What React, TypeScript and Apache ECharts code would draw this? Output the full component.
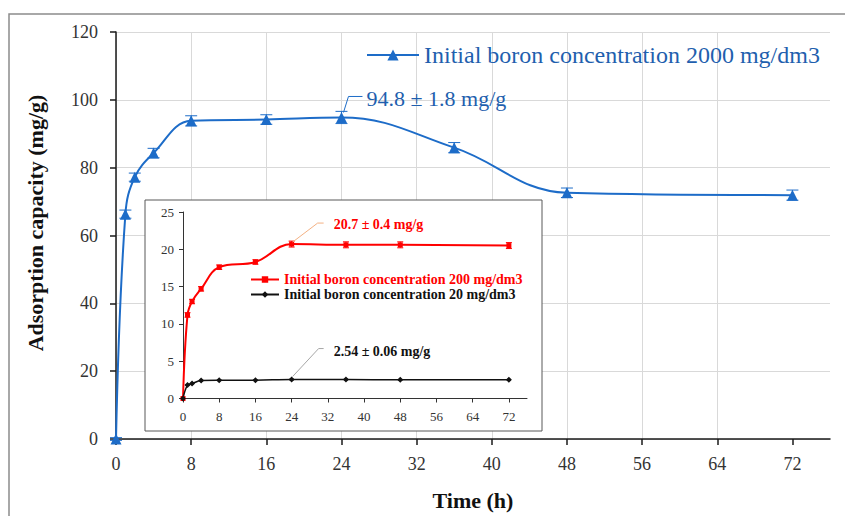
import React, { useEffect, useRef } from "react";
import * as echarts from "echarts";

// Contact time (h)
const hours = [0, 1, 2, 4, 8, 16, 24, 36, 48, 72];

// Initial boron concentration 2000 mg/dm3 (main plot)
const capacity2000 = [0, 66.3, 77.2, 84.3, 93.8, 94.2, 94.8, 85.9, 72.6, 71.9];
const error2000 = [0.4, 1.2, 1.2, 1.4, 1.5, 1.4, 1.8, 1.5, 1.4, 1.5];

// Initial boron concentration 200 mg/dm3 (inset)
const capacity200 = [0, 11.2, 13.0, 14.7, 17.6, 18.3, 20.7, 20.6, 20.6, 20.5];
const error200 = [0, 0.3, 0.3, 0.3, 0.3, 0.3, 0.4, 0.4, 0.4, 0.4];

// Initial boron concentration 20 mg/dm3 (inset)
const capacity20 = [0, 1.8, 2.0, 2.4, 2.45, 2.46, 2.54, 2.54, 2.5, 2.5];
const error20 = [0, 0.05, 0.05, 0.05, 0.06, 0.06, 0.06, 0.06, 0.06, 0.06];

const timeTicks = [0, 8, 16, 24, 32, 40, 48, 56, 64, 72];

const NAME_2000 = "Initial boron concentration 2000 mg/dm3";
const NAME_200 = "Initial boron concentration 200 mg/dm3";
const NAME_20 = "Initial boron concentration 20 mg/dm3";

const SERIF = "Liberation Serif";
const BLUE = "#1d6cc8";
const BLUE_TEXT = "#1f5fae";
const RED = "#ff0000";
const BLACK = "#111111";

const pairs = (ys: number[]) => hours.map((t, i) => [t, ys[i]]);
const ranges = (ys: number[], es: number[]) =>
  hours.map((t, i) => [t, ys[i] - es[i], ys[i] + es[i]]);

function errorBarSeries(
  data: number[][],
  color: string,
  axisIndex: number,
  cap: number,
  z: number
) {
  return {
    type: "custom",
    xAxisIndex: axisIndex,
    yAxisIndex: axisIndex,
    z,
    silent: true,
    data,
    encode: { x: 0, y: [1, 2] },
    renderItem: (_params: any, api: any) => {
      const x = api.value(0);
      const lo = api.coord([x, api.value(1)]);
      const hi = api.coord([x, api.value(2)]);
      const style = { stroke: color, lineWidth: 1 };
      return {
        type: "group",
        children: [
          { type: "line", shape: { x1: lo[0], y1: lo[1], x2: hi[0], y2: hi[1] }, style },
          { type: "line", shape: { x1: lo[0] - cap, y1: lo[1], x2: lo[0] + cap, y2: lo[1] }, style },
          { type: "line", shape: { x1: hi[0] - cap, y1: hi[1], x2: hi[0] + cap, y2: hi[1] }, style },
        ],
      };
    },
  };
}

export default function App() {
  const ref = useRef<HTMLDivElement>(null);

  useEffect(() => {
    if (!ref.current) return;
    const chart = echarts.init(ref.current, undefined, { renderer: "svg" });

    const axisText = { fontFamily: SERIF, color: "#333333" };

    chart.setOption({
      animation: false,
      backgroundColor: "#ffffff",
      textStyle: { fontFamily: SERIF },
      grid: [
        { left: 116, top: 32, right: 15, bottom: 77, outerBoundsMode: "none" },
        { left: 183, top: 212, width: 344, height: 186.5, outerBoundsMode: "none" },
      ],
      legend: [
        {
          data: [NAME_2000],
          left: 366,
          top: 42,
          padding: 0,
          itemWidth: 52,
          itemHeight: 14,
          itemGap: 0,
          itemTextGap: 5,
          textStyle: { fontFamily: SERIF, fontSize: 24, color: BLUE_TEXT, lineHeight: 26 },
        },
        {
          data: [
            { name: NAME_200, textStyle: { color: RED, fontFamily: SERIF } },
            { name: NAME_20, textStyle: { color: BLACK, fontFamily: SERIF } },
          ],
          orient: "vertical",
          left: 250,
          top: 272,
          padding: 0,
          itemWidth: 28,
          itemHeight: 8,
          itemGap: 0,
          itemTextGap: 3,
          textStyle: { fontFamily: SERIF, fontSize: 14, fontWeight: "bold", lineHeight: 15 },
        },
      ],
      xAxis: [
        {
          type: "value",
          gridIndex: 0,
          min: 0,
          max: 76,
          interval: 8,
          z: 0,
          name: "Time (h)",
          nameLocation: "middle",
          nameGap: 50,
          nameTextStyle: { fontFamily: SERIF, fontSize: 22, fontWeight: "bold", color: "#111111" },
          axisLine: { onZero: false, lineStyle: { color: "#1a1a1a", width: 1.5 } },
          axisTick: { show: true, length: 6, customValues: timeTicks, lineStyle: { color: "#1a1a1a", width: 1.5 } },
          axisLabel: { ...axisText, fontSize: 18, margin: 16, customValues: timeTicks },
          splitLine: { show: true, showMaxLine: false, lineStyle: { color: "#d9d9d9", width: 1 } },
        },
        {
          type: "value",
          gridIndex: 1,
          min: 0,
          max: 76,
          interval: 8,
          z: 3,
          axisLine: { onZero: false, lineStyle: { color: "#333333", width: 1 } },
          axisTick: { show: true, length: 4, customValues: timeTicks, lineStyle: { color: "#333333" } },
          axisLabel: { ...axisText, fontSize: 13, margin: 11, customValues: timeTicks },
          splitLine: { show: false },
        },
      ],
      yAxis: [
        {
          type: "value",
          gridIndex: 0,
          min: 0,
          max: 120,
          interval: 20,
          z: 0,
          axisLine: { show: true, onZero: false, lineStyle: { color: "#1a1a1a", width: 1.5 } },
          axisTick: { show: true, length: 6, lineStyle: { color: "#1a1a1a", width: 1.5 } },
          axisLabel: { ...axisText, fontSize: 18, margin: 18 },
          splitLine: { show: true, lineStyle: { color: "#d9d9d9", width: 1 } },
        },
        {
          type: "value",
          gridIndex: 1,
          min: 0,
          max: 25,
          interval: 5,
          z: 3,
          axisLine: { show: true, onZero: false, lineStyle: { color: "#333333", width: 1 } },
          axisTick: { show: true, length: 4, lineStyle: { color: "#333333" } },
          axisLabel: { ...axisText, fontSize: 13, margin: 9 },
          splitLine: { show: false },
        },
      ],
      series: [
        {
          name: NAME_2000,
          type: "line",
          xAxisIndex: 0,
          yAxisIndex: 0,
          data: pairs(capacity2000),
          smooth: 0.4,
          symbol: "triangle",
          symbolSize: 11,
          z: 2,
          itemStyle: { color: BLUE },
          lineStyle: { color: BLUE, width: 2 },
        },
        errorBarSeries(ranges(capacity2000, error2000), BLUE, 0, 6, 2),
        {
          name: NAME_200,
          type: "line",
          xAxisIndex: 1,
          yAxisIndex: 1,
          data: pairs(capacity200),
          smooth: 0.4,
          symbol: "rect",
          symbolSize: 5,
          z: 5,
          itemStyle: { color: RED },
          lineStyle: { color: RED, width: 2 },
        },
        errorBarSeries(ranges(capacity200, error200), RED, 1, 3, 5),
        {
          name: NAME_20,
          type: "line",
          xAxisIndex: 1,
          yAxisIndex: 1,
          data: pairs(capacity20),
          smooth: 0.4,
          symbol: "diamond",
          symbolSize: 6,
          z: 5,
          itemStyle: { color: BLACK },
          lineStyle: { color: BLACK, width: 1.5 },
        },
        errorBarSeries(ranges(capacity20, error20), BLACK, 1, 2, 5),
      ],
    });

    // Leader lines and value labels anchored on the 24 h points
    const iPeak = hours.indexOf(24);
    const pBlue = chart.convertToPixel({ gridIndex: 0 }, [24, capacity2000[iPeak]]) as number[];
    const pRed = chart.convertToPixel({ gridIndex: 1 }, [24, capacity200[iPeak]]) as number[];
    const pBlack = chart.convertToPixel({ gridIndex: 1 }, [24, capacity20[iPeak]]) as number[];

    const leader = (p: number[], pts: number[][], color: string) => ({
      type: "polyline",
      z: 6,
      silent: true,
      shape: { points: pts.map(([dx, dy]) => [p[0] + dx, p[1] + dy]) },
      style: { stroke: color, lineWidth: 1, fill: "none" },
    });
    const note = (p: number[], dx: number, dy: number, text: string, color: string, size: number, bold: boolean) => ({
      type: "text",
      z: 6,
      silent: true,
      x: p[0] + dx,
      y: p[1] + dy,
      style: {
        text,
        fill: color,
        font: `${bold ? "bold " : ""}${size}px ${SERIF}`,
        textAlign: "left",
        textVerticalAlign: "middle",
      },
    });

    chart.setOption({
      graphic: {
        elements: [
          {
            type: "rect",
            z: -1,
            silent: true,
            shape: { x: 9, y: 14, width: 900, height: 600 },
            style: { fill: "none", stroke: "#8c8c8c", lineWidth: 1.5 },
          },
          {
            type: "rect",
            z: 1,
            silent: true,
            shape: { x: 145, y: 200, width: 397, height: 231 },
            style: { fill: "#ffffff", stroke: "#595959", lineWidth: 1 },
          },
          {
            type: "text",
            z: 6,
            silent: true,
            x: 35,
            y: 223,
            rotation: Math.PI / 2,
            style: {
              text: "Adsorption capacity (mg/g)",
              fill: "#111111",
              font: `bold 22px ${SERIF}`,
              textAlign: "center",
              textVerticalAlign: "middle",
            },
          },
          leader(pBlue, [[2, -5], [7, -21], [21, -21]], BLUE),
          note(pBlue, 25, -19, `${capacity2000[iPeak]} \u00b1 ${error2000[iPeak]} mg/g`, BLUE_TEXT, 22, false),
          leader(pRed, [[1, -2], [26, -21], [32, -21]], "#f4b183"),
          note(pRed, 42, -20, `${capacity200[iPeak]} \u00b1 ${error200[iPeak]} mg/g`, RED, 14, true),
          leader(pBlack, [[1, -3], [27, -31], [32, -31]], "#a6a6a6"),
          note(pBlack, 42, -28, `${capacity20[iPeak]} \u00b1 ${error20[iPeak].toFixed(2)} mg/g`, BLACK, 14, true),
        ],
      },
    });

    return () => chart.dispose();
  }, []);

  return (
    <div
      ref={ref}
      style={{ position: "fixed", left: 0, top: 0, width: 845, height: 516, background: "#ffffff" }}
    />
  );
}
